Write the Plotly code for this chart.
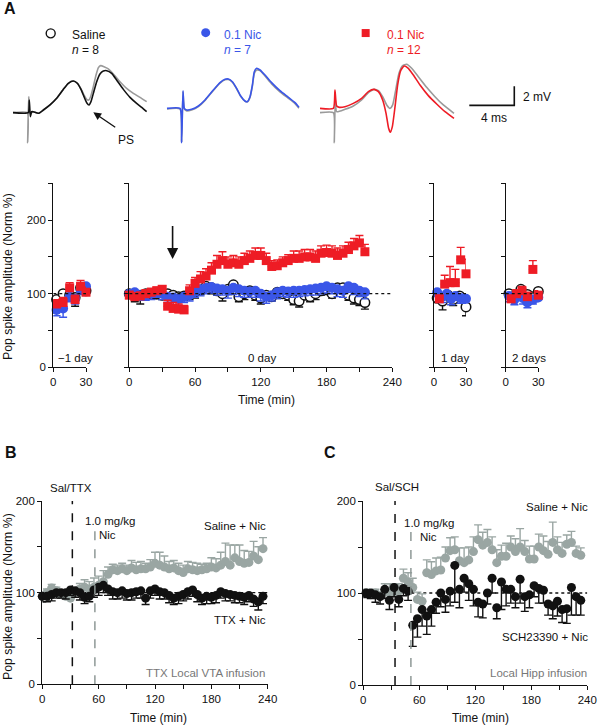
import plotly.graph_objects as go

W, H = 598, 725
FONT = "Liberation Sans, Arial, Helvetica, sans-serif"
RED = "#ee1c25"
BLUE = "#3a56e8"
TRGRAY = "#9a9a9a"
GRAYBC = "#9aa6a3"
BLACK = "#111111"

# ---------------- data ----------------
# Panel A: -1 day
pre_t = [3, 9, 15, 20, 25, 30]
pre_sal = [92, 100, 98, 95, 108, 104]
pre_sal_err = [6, 7, 6, 12, 6, 6]
pre_blue = [78, 80, 96, 93, 105, 110]
pre_blue_err = [8, 12, 7, 7, 6, 5]
pre_red = [86, 88, 108, 92, 110, 102]
pre_red_err = [6, 7, 7, 6, 8, 7]

# Panel A: 0 day
d0_t = [0, 5, 10, 15, 20, 25, 30, 35, 40, 45, 50, 55, 60, 65, 70, 75, 80, 85, 90, 95, 100, 105,
        110, 115, 120, 125, 130, 135, 140, 145, 150, 155, 160, 165, 170, 175, 180, 185, 190, 195,
        200, 205, 210, 215]
d0_red = [98, 96, 97, 100, 102, 104, 106, 83, 80, 79, 78, 104, 114, 120, 124, 132, 140, 145, 140, 142,
          140, 145, 148, 152, 152, 145, 137, 138, 142, 145, 148, 148, 150, 150, 148, 155, 156, 155,
          152, 155, 160, 165, 169, 157]
d0_red_err = [5, 5, 5, 5, 5, 5, 5, 8, 8, 7, 6, 8, 8, 10, 10, 10, 12, 12, 10, 10, 10, 10, 10, 10, 10,
              10, 8, 8, 8, 8, 10, 10, 10, 10, 10, 10, 10, 10, 10, 10, 10, 10, 10, 10]
d0_blue = [100, 102, 98, 98, 100, 102, 100, 96, 95, 93, 96, 98, 103, 106, 108, 109, 107, 106, 104, 108,
           106, 104, 103, 104, 100, 96, 98, 102, 104, 103, 104, 104, 105, 106, 107, 108, 110, 108, 106,
           104, 110, 108, 104, 102]
d0_blue_err = [7, 8, 7, 7, 8, 7, 8, 8, 10, 9, 8, 8, 8, 9, 8, 8, 9, 8, 10, 9, 10, 9, 8, 9, 10, 9, 8, 9,
               8, 8, 9, 8, 8, 8, 9, 8, 9, 8, 10, 9, 8, 9, 8, 9]
d0_sal = [100, 97, 98, 100, 100, 100, 98, 100, 98, 96, 97, 99, 102, 105, 110, 108, 104, 100, 106, 112,
          96, 100, 104, 98, 94, 98, 96, 102, 100, 98, 92, 90, 98, 96, 100, 104, 106, 100, 108, 108,
          98, 94, 92, 88]
d0_sal_err = [6, 8, 12, 7, 6, 7, 6, 7, 6, 7, 6, 7, 8, 6, 7, 8, 6, 10, 7, 8, 7, 8, 6, 7, 8, 7, 6, 8,
              6, 7, 7, 8, 6, 7, 8, 6, 7, 6, 7, 8, 7, 8, 8, 9]

# Panel A: 1 day
d1_red_t = [5, 10, 15, 20, 25, 30]
d1_red = [93, 113, 115, 115, 146, 127]
d1_red_err = [5, 12, 22, 18, 17, 20]
d1_blue_t = [3, 8, 12, 16, 20, 25, 30]
d1_blue = [102, 96, 100, 93, 97, 94, 93]
d1_blue_err = [6, 8, 7, 8, 6, 7, 6]
d1_sal_t = [3, 8, 13, 18, 24, 30]
d1_sal = [94, 90, 98, 92, 97, 82]
d1_sal_err = [6, 12, 7, 8, 6, 12]

# Panel A: 2 days
d2_red_t = [5, 10, 15, 20, 25, 30]
d2_red = [93, 100, 104, 96, 133, 98]
d2_red_err = [5, 5, 6, 6, 12, 6]
d2_blue_t = [3, 8, 12, 16, 20, 25, 30]
d2_blue = [97, 92, 98, 94, 88, 92, 95]
d2_blue_err = [8, 7, 6, 8, 7, 6, 6]
d2_sal_t = [3, 8, 14, 20, 25, 30]
d2_sal = [100, 97, 106, 99, 96, 103]
d2_sal_err = [6, 6, 6, 6, 6, 6]

# Panel B
b_t = [0, 5, 10, 15, 20, 25, 30, 35, 40, 45, 50, 55, 60, 65, 70, 75, 80, 85, 90, 95, 100, 105, 110,
       115, 120, 125, 130, 135, 140, 145, 150, 155, 160, 165, 170, 175, 180, 185, 190, 195, 200, 205,
       210, 215, 220, 225, 230, 235]
b_sal = [96, 100, 105, 102, 98, 96, 94, 100, 104, 106, 104, 106, 108, 112, 120, 125, 124, 126, 124,
         127, 125, 126, 126, 128, 132, 130, 128, 126, 127, 124, 122, 126, 125, 124, 125, 126, 128,
         127, 130, 134, 130, 138, 134, 132, 133, 140, 136, 148]
b_sal_err = [4, 4, 4, 4, 4, 4, 4, 4, 6, 8, 8, 10, 10, 12, 8, 6, 6, 6, 6, 8, 8, 8, 6, 8, 12, 14, 12, 8,
             8, 8, 8, 8, 8, 8, 6, 6, 10, 10, 14, 20, 22, 14, 18, 14, 12, 16, 14, 12]
b_ttx = [96, 96, 98, 100, 100, 100, 103, 102, 100, 95, 96, 103, 106, 108, 104, 101, 100, 102, 99, 100,
         101, 102, 94, 102, 104, 101, 100, 97, 94, 96, 98, 101, 103, 98, 94, 96, 95, 97, 101, 99, 98,
         97, 96, 95, 97, 93, 90, 96]
b_ttx_err = [6, 6, 7, 6, 6, 7, 6, 7, 8, 7, 6, 8, 9, 8, 7, 8, 7, 8, 7, 8, 7, 8, 7, 8, 7, 8, 7, 8, 7, 8,
             7, 8, 7, 8, 7, 8, 7, 8, 7, 8, 7, 8, 7, 8, 7, 8, 9, 8]

# Panel C
c_t = [3, 8, 13, 18, 23, 28, 33, 38, 43, 48, 53, 58, 63, 68, 73, 78, 83, 88, 93, 98, 103, 108, 113,
       118, 123, 128, 133, 138, 143, 148, 153, 158, 163, 168, 173, 178, 183, 188, 193, 198, 203, 208,
       213, 218, 223, 228, 233]
c_sal = [100, 98, 100, 97, 102, 100, 100, 102, 116, 112, 106, 93, 91, 122, 120, 124, 125, 138, 146, 147,
         135, 133, 136, 145, 158, 152, 155, 147, 133, 140, 140, 150, 145, 150, 145, 137, 137, 150, 146,
         142, 155, 147, 143, 153, 155, 143, 141]
c_sal_err = [4, 4, 4, 4, 8, 10, 10, 8, 10, 10, 10, 8, 8, 14, 14, 14, 14, 12, 14, 14, 14, 16, 14, 16,
             16, 14, 14, 14, 14, 12, 14, 12, 14, 20, 12, 14, 14, 14, 16, 14, 22, 14, 12, 10, 12, 8, 8]
c_sch = [100, 100, 98, 96, 104, 92, 106, 93, 105, 102, 65, 72, 82, 75, 82, 90, 100, 93, 102, 130, 104,
         116, 110, 104, 90, 88, 100, 116, 84, 112, 104, 104, 96, 115, 96, 98, 108, 105, 103, 88, 86,
         91, 82, 83, 106, 96, 92]
c_sch_err = [5, 6, 8, 8, 10, 10, 10, 8, 8, 10, 23, 20, 18, 20, 18, 12, 15, 14, 16, 40, 20, 15, 18, 18,
             16, 15, 12, 16, 12, 30, 18, 15, 12, 26, 16, 14, 12, 16, 14, 12, 14, 16, 14, 16, 30, 20, 16]

# Example field potential traces (ms, mV)
sal_t = [0, 1.36, 1.45, 1.54, 1.66, 1.81, 2.25, 2.70, 3.29, 3.88, 4.47, 4.92, 5.36, 5.72, 6.04, 6.31,
         6.55, 6.76, 6.93, 7.14, 7.44, 7.73, 8.03, 8.33, 8.77, 9.21, 9.81, 10.40, 10.99, 11.44, 11.88]
sal_v = [-0.49, -0.49, 0.84, -0.91, -0.39, -0.39, -0.56, -0.21, 0.32, 1.02, 1.96, 2.60, 2.84, 2.60,
         1.96, 1.19, 0.56, 0.32, 0.67, 1.54, 2.77, 3.58, 3.89, 3.93, 3.65, 2.95, 1.96, 1.12, 0.49, 0.07,
         -0.39]
sal_ref_t = [0, 1.27, 1.30, 1.39, 1.51, 1.81, 2.25, 2.70, 3.29, 3.88, 4.47, 4.92, 5.36, 5.72, 6.04,
             6.31, 6.55, 6.73, 6.90, 7.14, 7.38, 7.59, 7.79, 8.09, 8.47, 8.92, 9.51, 10.10, 10.70,
             11.29, 11.88]
sal_ref_v = [-0.49, -0.49, -3.65, 1.19, -0.56, -0.39, -0.56, -0.21, 0.32, 1.02, 1.96, 2.60, 2.84, 2.60,
             2.04, 1.37, 0.91, 0.84, 1.19, 2.25, 3.47, 4.25, 4.46, 4.35, 4.11, 3.58, 2.77, 2.07, 1.54,
             1.12, 0.67]
blue_t = [0, 1.16, 1.30, 1.42, 1.54, 1.75, 2.19, 2.79, 3.38, 4.12, 4.71, 5.16, 5.45, 5.81, 6.19, 6.55,
          6.93, 7.14, 7.38, 7.59, 7.76, 7.97, 8.27, 8.71, 9.30, 10.04, 10.79, 11.38, 11.73]
blue_v = [-0.04, -0.04, -3.65, 1.82, -0.04, -0.21, -0.14, 0.21, 0.84, 1.89, 2.67, 3.02, 3.05, 2.77, 2.07,
          1.26, 0.74, 0.67, 1.19, 2.42, 3.82, 4.18, 4.00, 3.47, 2.67, 1.82, 1.12, 0.56, 0.07]
blue_ref_v = [-0.1, -0.1, -3.6, 1.7, -0.1, -0.3, -0.2, 0.15, 0.8, 1.85, 2.62, 2.98, 3.0, 2.72, 2.02,
              1.22, 0.72, 0.65, 1.12, 2.3, 3.65, 4.0, 3.93, 3.37, 2.53, 1.7, 1.02, 0.46, -0.02]
red_t = [0, 1.19, 1.33, 1.48, 1.72, 2.22, 2.96, 3.70, 4.30, 4.80, 5.19, 5.57, 5.87, 6.10, 6.25, 6.43,
         6.67, 6.90, 7.17, 7.47, 7.85, 8.30, 8.89, 9.63, 10.37, 11.11, 11.91]
red_v = [-0.04, -0.04, 1.89, 0.21, 0.07, 0.14, 0.49, 1.02, 1.72, 1.96, 1.72, 0.84, -0.56, -2.14, -2.56,
         -1.96, 0.14, 2.42, 3.93, 4.42, 4.18, 3.47, 2.42, 1.30, 0.42, -0.39, -1.09]
red_ref_t = [0, 1.19, 1.27, 1.36, 1.48, 2.22, 2.96, 3.70, 4.30, 4.80, 5.19, 5.57, 5.93, 6.22, 6.46,
             6.73, 7.02, 7.35, 7.70, 8.15, 8.74, 9.48, 10.22, 10.96, 11.91]
red_ref_v = [-0.49, -0.49, -3.65, 0.84, -0.39, -0.14, 0.21, 0.84, 1.61, 1.96, 1.82, 1.19, 0.32, -0.04,
             0.32, 1.89, 3.65, 4.46, 4.60, 4.18, 3.30, 2.18, 1.19, 0.32, -0.56]
scale_ms = 4
scale_mv = 2

# ---------------- helpers ----------------
def xdom(a, b):
    return [a / W, b / W]


def ydom(top, bottom):
    return [1 - bottom / H, 1 - top / H]


def px(x):
    return x / W


def py(y):
    return 1 - y / H


fig = go.Figure()


def series(t, v, err, ax, kind, up=False, size=None):
    if kind == "red":
        mk = dict(symbol="square", size=size or 9, color=RED, line=dict(width=0))
        ec = RED
    elif kind == "blue":
        mk = dict(symbol="circle", size=size or 10, color=BLUE, line=dict(width=0))
        ec = BLUE
    elif kind == "sal":
        mk = dict(symbol="circle", size=size or 9.5, color="white", line=dict(width=1.5, color=BLACK))
        ec = BLACK
    elif kind == "gray":
        mk = dict(symbol="circle", size=size or 9, color=GRAYBC, line=dict(width=0))
        ec = GRAYBC
    else:
        mk = dict(symbol="circle", size=size or 9, color=BLACK, line=dict(width=0))
        ec = BLACK
    zeros = [0] * len(err)
    fig.add_trace(go.Scatter(
        x=t, y=v, mode="markers", marker=mk, xaxis="x" + ax, yaxis="y" + ax,
        cliponaxis=False, showlegend=False, hoverinfo="skip",
        error_y=dict(type="data", symmetric=False,
                     array=err if up else zeros, arrayminus=zeros if up else err,
                     color=ec, thickness=1.4, width=4)))


# Panel A
for ax, (bt, bv, be), (st, sv, se), (rt, rv, re_) in [
    ("", (pre_t, pre_blue, pre_blue_err), (pre_t, pre_sal, pre_sal_err), (pre_t, pre_red, pre_red_err)),
    ("2", (d0_t, d0_blue, d0_blue_err), (d0_t, d0_sal, d0_sal_err), (d0_t, d0_red, d0_red_err)),
    ("3", (d1_blue_t, d1_blue, d1_blue_err), (d1_sal_t, d1_sal, d1_sal_err), (d1_red_t, d1_red, d1_red_err)),
    ("4", (d2_blue_t, d2_blue, d2_blue_err), (d2_sal_t, d2_sal, d2_sal_err), (d2_red_t, d2_red, d2_red_err)),
]:
    series(st, sv, se, ax, "sal")
    series(bt, bv, be, ax, "blue")
    series(rt, rv, re_, ax, "red", up=True)

# Panel B, C
series(b_t, b_sal, b_sal_err, "5", "gray", up=True)
series(b_t, b_ttx, b_ttx_err, "5", "black")
series(c_t, c_sal, c_sal_err, "6", "gray", up=True)
series(c_t, c_sch, c_sch_err, "6", "black")


# Traces
def wave(t, v, color, ax):
    fig.add_trace(go.Scatter(x=t, y=v, mode="lines", xaxis="x" + ax, yaxis="y" + ax,
                             line=dict(color=color, width=1.6, shape="spline", smoothing=0.5),
                             showlegend=False, hoverinfo="skip", cliponaxis=False))


wave(sal_ref_t, sal_ref_v, TRGRAY, "7")
wave(sal_t, sal_v, BLACK, "7")
wave(blue_t, blue_ref_v, TRGRAY, "8")
wave(blue_t, blue_v, BLUE, "8")
wave(red_ref_t, red_ref_v, TRGRAY, "9")
wave(red_t, red_v, RED, "9")

# scale bar (in the red trace's ms / mV coordinates)
sb_x0, sb_y0 = 13.27, 0.28
fig.add_trace(go.Scatter(x=[sb_x0, sb_x0 + scale_ms, sb_x0 + scale_ms],
                         y=[sb_y0, sb_y0, sb_y0 + scale_mv], mode="lines",
                         line=dict(color=BLACK, width=1.6), xaxis="x9", yaxis="y9",
                         showlegend=False, hoverinfo="skip", cliponaxis=False))

# legend symbols
fig.add_trace(go.Scatter(x=[3.35], y=[7.86], mode="markers", xaxis="x7", yaxis="y7",
                         marker=dict(symbol="circle", size=9, color="white", line=dict(width=1.4, color=BLACK)),
                         showlegend=False, hoverinfo="skip", cliponaxis=False))
fig.add_trace(go.Scatter(x=[3.44], y=[7.93], mode="markers", xaxis="x8", yaxis="y8",
                         marker=dict(symbol="circle", size=9, color=BLUE),
                         showlegend=False, hoverinfo="skip", cliponaxis=False))
fig.add_trace(go.Scatter(x=[4.06], y=[7.89], mode="markers", xaxis="x9", yaxis="y9",
                         marker=dict(symbol="square", size=8, color=RED),
                         showlegend=False, hoverinfo="skip", cliponaxis=False))

# ---------------- axes ----------------
tickfont = dict(family=FONT, size=11.5, color=BLACK)
base = dict(showline=True, linecolor=BLACK, linewidth=1.2, ticks="outside", ticklen=4,
            tickwidth=1.1, tickcolor=BLACK, showgrid=False, zeroline=False, tickfont=tickfont,
            fixedrange=True, automargin=False)

yA_dom = ydom(183.3, 367.3)
yA_vals = [0, 50, 100, 150, 200, 250]
yA_text = ["0", "", "100", "", "200", ""]


def yA(anchor, labels):
    d = dict(base, domain=yA_dom, range=[0, 250], anchor=anchor, tickvals=yA_vals,
             ticktext=yA_text, showticklabels=labels)
    return d


lay = {}
lay["xaxis"] = dict(base, domain=xdom(53.3, 86), range=[0, 30], anchor="y", tickvals=[0, 30])
lay["yaxis"] = yA("x", True)
lay["xaxis2"] = dict(base, domain=xdom(129.3, 392.3), range=[0, 240], anchor="y2",
                     tickvals=[0, 30, 60, 90, 120, 150, 180, 210, 240],
                     ticktext=["0", "", "60", "", "120", "", "180", "", "240"])
lay["yaxis2"] = yA("x2", False)
lay["xaxis3"] = dict(base, domain=xdom(434, 466), range=[0, 30], anchor="y3", tickvals=[0, 30])
lay["yaxis3"] = yA("x3", False)
lay["xaxis4"] = dict(base, domain=xdom(505.7, 538.3), range=[0, 30], anchor="y4", tickvals=[0, 30])
lay["yaxis4"] = yA("x4", False)

xbc_vals = [0, 30, 60, 90, 120, 150, 180, 210, 240]
xbc_text = ["0", "", "60", "", "120", "", "180", "", "240"]
ybc_vals = [0, 50, 100, 150, 200]
ybc_text = ["0", "", "100", "", "200"]
lay["xaxis5"] = dict(base, domain=xdom(42.3, 267.7), range=[0, 240], anchor="y5",
                     tickvals=xbc_vals, ticktext=xbc_text)
lay["yaxis5"] = dict(base, domain=ydom(501, 684.3), range=[0, 200], anchor="x5",
                     tickvals=ybc_vals, ticktext=ybc_text)
lay["xaxis6"] = dict(base, domain=xdom(363.3, 587.3), range=[0, 240], anchor="y6",
                     tickvals=xbc_vals, ticktext=xbc_text)
lay["yaxis6"] = dict(base, domain=ydom(501, 685), range=[0, 200], anchor="x6",
                     tickvals=ybc_vals, ticktext=ybc_text)

# trace axes: 1 ms = 11.25 px, 1 mV = 9.5 px, baseline reference at y=108 px
MS_PX, MV_PX, YREF = 11.25, 9.5, 108.0
hid = dict(visible=False, showgrid=False, zeroline=False, fixedrange=True)
wy = dict(hid, domain=ydom(25, 150), range=[(YREF - 150) / MV_PX, (YREF - 25) / MV_PX])
for ax, x0, l, r in [("7", 13, 8, 160), ("8", 167, 162, 310), ("9", 320, 315, 540)]:
    lay["xaxis" + ax] = dict(hid, domain=xdom(l, r), range=[(l - x0) / MS_PX, (r - x0) / MS_PX],
                             anchor="y" + ax)
    lay["yaxis" + ax] = dict(wy, anchor="x" + ax)

fig.update_layout(**lay)

# ---------------- shapes ----------------
shapes = []
def hline(ax, x1, layer):
    shapes.append(dict(type="line", xref="x" + ax, yref="y" + ax, x0=0, x1=x1, y0=100, y1=100,
                       line=dict(color=BLACK, width=1.3, dash="dot"), layer=layer))

hline("", 30, "above")
hline("2", 240, "above")
hline("3", 30, "above")
hline("4", 30, "above")
hline("5", 240, "below")
hline("6", 240, "below")

def vline(ax, x, ytop, color):
    shapes.append(dict(type="line", xref="x" + ax, yref="y" + ax, x0=x, x1=x, y0=0, y1=ytop,
                       line=dict(color=color, width=1.5, dash="dash"), layer="above"))

vline("5", 32, 207, BLACK)
vline("5", 56, 174, "#8e9896")
vline("6", 34, 207, BLACK)
vline("6", 51, 170, "#8e9896")
fig.update_layout(shapes=shapes)

# ---------------- annotations ----------------
ann = []
def T(text, x, y, size=11.5, xanchor="center", color=BLACK, bold=False, angle=0):
    if bold:
        text = "<b>" + text + "</b>"
    ann.append(dict(text=text, x=px(x), y=py(y), xref="paper", yref="paper", showarrow=False,
                    xanchor=xanchor, yanchor="middle", textangle=angle,
                    font=dict(family=FONT, size=size, color=color)))

T("A", 2, 9, size=16, xanchor="left", bold=True)
T("Saline", 70, 35, size=12, xanchor="left")
T("<i>n</i> = 8", 70, 50, size=12, xanchor="left")
T("0.1 Nic", 222, 35, size=12, xanchor="left", color=BLUE)
T("<i>n</i> = 7", 222, 50, size=12, xanchor="left", color=BLUE)
T("0.1 Nic", 385, 35, size=12, xanchor="left", color=RED)
T("<i>n</i> = 12", 385, 50, size=12, xanchor="left", color=RED)
T("PS", 126, 139.5, size=12)
T("2 mV", 521, 96.5, size=12, xanchor="left")
T("4 ms", 494, 117.5, size=12)
T("Pop spike amplitude (Norm %)", 8, 277, size=12.3, angle=-90)
T("\u22121 day", 75, 357.7)
T("0 day", 261.7, 357.7)
T("1 day", 455, 357.7)
T("2 days", 529.3, 357.7)
T("Time (min)", 266, 400, size=12)

T("B", 3, 452, size=16, xanchor="left", bold=True)
T("Sal/TTX", 71, 487.5)
T("1.0 mg/kg", 83, 521, xanchor="left")
T("Nic", 107, 535)
T("Saline + Nic", 268, 526, xanchor="right")
T("TTX + Nic", 268, 620, xanchor="right")
T("TTX Local VTA infusion", 267, 672.7, xanchor="right", color="#777777")
T("Time (min)", 158, 718, size=12)
T("Pop spike amplitude (Norm %)", 8, 597, size=12.3, angle=-90)

T("C", 322, 452, size=16, xanchor="left", bold=True)
T("Sal/SCH", 396.7, 487)
T("1.0 mg/kg", 401.7, 522.7, xanchor="left")
T("Nic", 428, 536.7)
T("Saline + Nic", 590, 507.3, xanchor="right")
T("SCH23390 + Nic", 590, 637.3, xanchor="right")
T("Local Hipp infusion", 589.3, 672.7, xanchor="right", color="#777777")
T("Time (min)", 480, 718, size=12)

# arrows
ann.append(dict(x=39.5, y=147, ax=39.5, ay=194, xref="x2", yref="y2", axref="x2", ayref="y2",
                showarrow=True, arrowhead=2, arrowsize=1.4, arrowwidth=1.6, arrowcolor=BLACK, text=""))
ann.append(dict(x=7.14, y=-0.45, ax=23.4, ay=16, xref="x7", yref="y7",
                showarrow=True, arrowhead=2, arrowsize=1.2, arrowwidth=1.3, arrowcolor=BLACK, text=""))

fig.update_layout(annotations=ann, width=W, height=H, margin=dict(l=0, r=0, t=0, b=0, pad=0),
                  autosize=False,
                  paper_bgcolor="white", plot_bgcolor="white",
                  font=dict(family=FONT, size=11.5, color=BLACK), showlegend=False)

fig.write_html("out.html", config={"responsive": False, "displayModeBar": False},
               post_script="document.body.style.margin='0px';document.body.style.padding='0px';"
                           "document.body.style.overflow='hidden';")
